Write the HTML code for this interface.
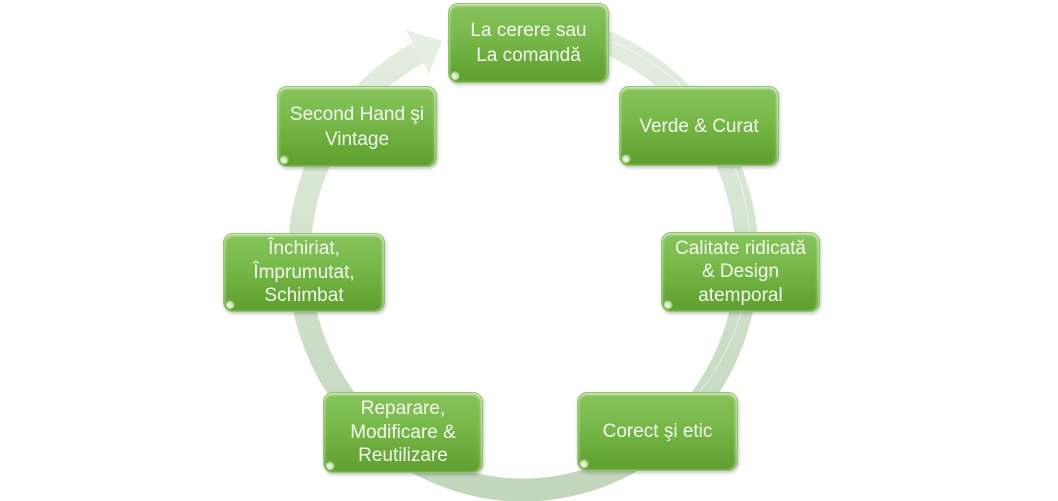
<!DOCTYPE html>
<html>
<head>
<meta charset="utf-8">
<style>
  html, body { margin:0; padding:0; background:#ffffff; }
  body { width:1058px; height:501px; position:relative; overflow:hidden; }
  svg.ring { position:absolute; left:0; top:0; }
  .box {
    position:absolute;
    box-sizing:border-box;
    width:160px; height:80px;
    border-radius:10px;
    background: linear-gradient(to bottom, #87c45c 0%, #77b749 45%, #66a736 80%, #5f9f2f 100%);
    border:1px solid #8dc766;
    box-shadow: inset 0 2px 2px rgba(255,255,255,0.55),
                inset -2px 0 2px rgba(255,255,255,0.35),
                inset 2px 0 2px rgba(255,255,255,0.15),
                1px 2px 3px rgba(0,0,0,0.22);
    display:flex; align-items:center; justify-content:center;
    text-align:center;
    color:#f3f8ef;
    font-family:"Liberation Sans", sans-serif;
    font-size:19px;
    line-height:25px;
  }
  .box.t3 { line-height:23.5px; }
  .box::after {
    content:""; position:absolute; left:2px; bottom:2px;
    width:9px; height:9px; border-radius:50%;
    background: radial-gradient(circle at 40% 60%, rgba(255,255,255,0.95) 0%, rgba(235,250,220,0.7) 45%, rgba(255,255,255,0) 75%);
  }
</style>
</head>
<body>
<svg class="ring" width="1058" height="501" viewBox="0 0 1058 501">
  <defs>
    <linearGradient id="rg" gradientUnits="userSpaceOnUse" x1="0" y1="20" x2="0" y2="495">
      <stop offset="0" stop-color="#e5eee2"/>
      <stop offset="0.45" stop-color="#d4e3d0"/>
      <stop offset="1" stop-color="#c2d6bc"/>
    </linearGradient>
  </defs>
  <path d="M 561.9 29.5 A 224 232 0 1 1 417.8 53.2" fill="none" stroke="url(#rg)" stroke-width="23"/>
  <path d="M 561.9 29.5 A 213 221 0 1 1 422 63" fill="none" stroke="#ffffff" stroke-opacity="0.45" stroke-width="1.2" transform="translate(0,0)"/>
  <polygon points="406,30 442,41 429,74" fill="#e6efe3"/>
</svg>

<div class="box" style="left:448px; top:3px; width:161px;">La cerere sau<br>La comandă</div>
<div class="box" style="left:619px; top:86px;">Verde &amp; Curat</div>
<div class="box t3" style="left:661px; top:232px; width:159px;">Calitate ridicată<br>&amp; Design<br>atemporal</div>
<div class="box" style="left:577px; top:392px; width:161px; height:79px;">Corect şi etic</div>
<div class="box t3" style="left:323px; top:392px; height:81px;">Reparare,<br>Modificare &amp;<br>Reutilizare</div>
<div class="box t3" style="left:223px; top:233px; width:162px; height:79px;">Închiriat,<br>Împrumutat,<br>Schimbat</div>
<div class="box" style="left:277px; top:86px; height:81px;">Second Hand şi<br>Vintage</div>
</body>
</html>
